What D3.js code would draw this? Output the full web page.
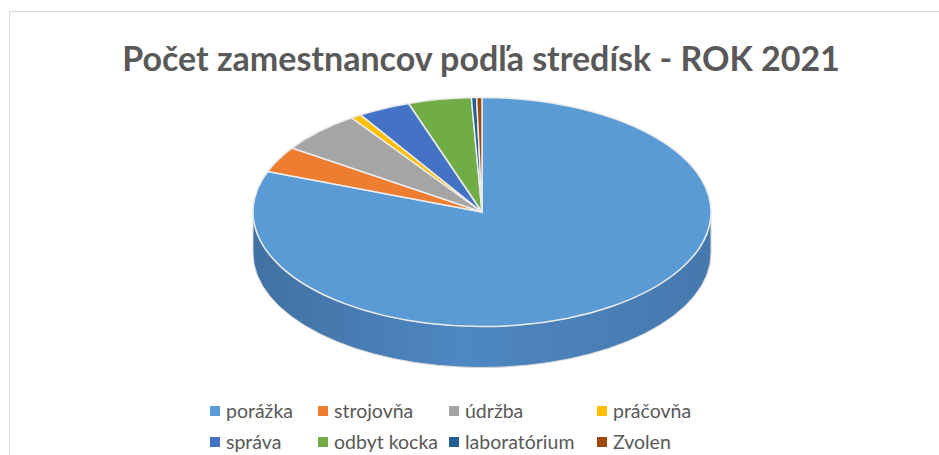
<!DOCTYPE html>
<html>
<head>
<meta charset="utf-8">
<script src="https://cdn.jsdelivr.net/npm/d3@7"></script>
<style>
    body { margin: 0; background: #fff; }
    svg { display: block; font-family: Lato, "Open Sans", sans-serif; }
</style>
</head>
<body>
<div id="chart"></div>
<script>
const categories = ["porážka", "strojovňa", "údržba", "práčovňa", "správa", "odbyt kocka", "laboratórium", "Zvolen"];
const employees = [218, 10, 16, 2, 10, 12, 1, 1];
const colors = ["#5B9BD5", "#ED7D31", "#A5A5A5", "#FFC000", "#4472C4", "#70AD47", "#255E91", "#9E480E"];
const sideColors = ["#4A80B8", "#C5682A", "#8A8A8A", "#D4A000", "#3860A4", "#5E913B", "#1F4E79", "#833C0C"];
const title = "Počet zamestnancov podľa stredísk - ROK 2021";

const width = 939, height = 455;
const cx = 482, cy = 212, rx = 229, ry = 114.5, depth = 41;

const svg = d3.select("#chart").append("svg")
    .attr("width", width)
    .attr("height", height);

// chart area frame
svg.append("rect")
    .attr("x", 9.5).attr("y", 11.5)
    .attr("width", 960).attr("height", 460)
    .attr("fill", "#fff")
    .attr("stroke", "#d9d9d9");

svg.append("text")
    .attr("x", 481).attr("y", 71)
    .attr("text-anchor", "middle")
    .attr("font-size", 34)
    .attr("font-weight", "bold")
    .attr("fill", "#595959")
    .text(title);

const pie = d3.pie().sort(null).value(d => d);
const arcs = pie(employees);

const pt = (a, dy = 0) => [cx + rx * Math.sin(a), cy - ry * Math.cos(a) + dy];

// side gradient
const defs = svg.append("defs");
sideColors.forEach((c, i) => {
    const g = defs.append("linearGradient")
        .attr("id", "side" + i)
        .attr("gradientUnits", "userSpaceOnUse")
        .attr("x1", cx - rx).attr("x2", cx + rx)
        .attr("y1", 0).attr("y2", 0);
    g.append("stop").attr("offset", "0%").attr("stop-color", d3.color(c).darker(0.35));
    g.append("stop").attr("offset", "45%").attr("stop-color", d3.color(c).brighter(0.15));
    g.append("stop").attr("offset", "100%").attr("stop-color", d3.color(c).darker(0.15));
});

// visible side walls: front half, angles PI/2 .. 3PI/2
const sideG = svg.append("g");
arcs.forEach((d, i) => {
    const a0 = Math.max(d.startAngle, Math.PI / 2);
    const a1 = Math.min(d.endAngle, 3 * Math.PI / 2);
    if (a1 <= a0) return;
    const p0 = pt(a0), p1 = pt(a1);
    const large = (a1 - a0) > Math.PI ? 1 : 0;
    const path = `M${p0}A${rx},${ry} 0 ${large} 1 ${p1}` +
        `L${pt(a1, depth)}A${rx},${ry} 0 ${large} 0 ${pt(a0, depth)}Z`;
    sideG.append("path")
        .attr("d", path)
        .attr("fill", `url(#side${i})`)
        .attr("stroke", "#d9d9d9")
        .attr("stroke-width", 1);
});

// top faces
const topG = svg.append("g");
topG.selectAll("path")
    .data(arcs)
    .join("path")
    .attr("d", d => {
        const p0 = pt(d.startAngle), p1 = pt(d.endAngle);
        const large = (d.endAngle - d.startAngle) > Math.PI ? 1 : 0;
        return `M${cx},${cy}L${p0}A${rx},${ry} 0 ${large} 1 ${p1}Z`;
    })
    .attr("fill", (d, i) => colors[i])
    .attr("stroke", "#ebebeb")
    .attr("stroke-width", 1.5)
    .attr("stroke-linejoin", "round");

// legend
const colX = [210, 318, 449, 597];
const rowY = [411, 442];
const legend = svg.append("g");
const item = legend.selectAll("g")
    .data(categories)
    .join("g")
    .attr("transform", (d, i) => `translate(${colX[i % 4]},${rowY[Math.floor(i / 4)]})`);
item.append("rect")
    .attr("x", 0).attr("y", -5)
    .attr("width", 10).attr("height", 10)
    .attr("fill", (d, i) => colors[i]);
item.append("text")
    .attr("x", 16).attr("y", 0)
    .attr("dy", "0.35em")
    .attr("font-size", 19.5)
    .attr("fill", "#595959")
    .text(d => d);
</script>
</body>
</html>
